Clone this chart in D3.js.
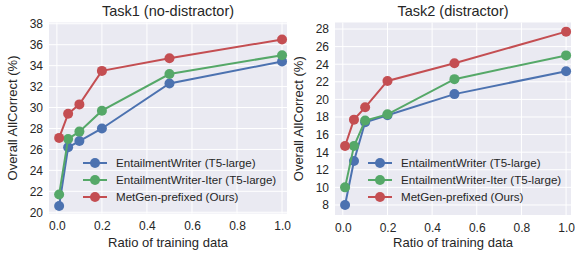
<!DOCTYPE html>
<html>
<head>
<meta charset="utf-8">
<script src="https://cdn.jsdelivr.net/npm/d3@7"></script>
<style>
  body { margin: 0; background: #fff; }
  text { font-family: "Liberation Sans", Arial, sans-serif; fill: #262626; }
</style>
</head>
<body>
<script>
let w = 575;
let h = 255;

// data
let ratios = [0.01, 0.05, 0.1, 0.2, 0.5, 1.0];
let seriesNames = ["EntailmentWriter (T5-large)", "EntailmentWriter-Iter (T5-large)", "MetGen-prefixed (Ours)"];
let colors = ["#4c72b0", "#55a868", "#c44e52"];
let task1Writer = [20.6, 26.2, 26.8, 28.0, 32.3, 34.4];
let task1Iter   = [21.7, 27.0, 27.7, 29.7, 33.2, 35.0];
let task1MetGen = [27.1, 29.4, 30.3, 33.5, 34.7, 36.5];
let task2Writer = [8.0, 13.0, 17.4, 18.2, 20.6, 23.2];
let task2Iter   = [10.0, 14.7, 17.6, 18.3, 22.3, 25.0];
let task2MetGen = [14.7, 17.7, 19.1, 22.1, 24.1, 27.7];
let xTicks = [0, 0.2, 0.4, 0.6, 0.8, 1.0];
let task1YTicks = [20, 22, 24, 26, 28, 30, 32, 34, 36, 38];
let task2YTicks = [8, 10, 12, 14, 16, 18, 20, 22, 24, 26, 28];

let svg = d3.select("body")
  .append("svg")
  .attr("width", w)
  .attr("height", h);

function drawPanel(opt) {
  let g = svg.append("g");

  let xScale = d3.scaleLinear()
    .domain([-0.035, 1.022])
    .range([opt.left, opt.right]);
  let yScale = d3.scaleLinear()
    .domain(opt.yDomain)
    .range([opt.bottom, opt.top]);

  // background
  g.append("rect")
    .attr("x", opt.left)
    .attr("y", opt.top)
    .attr("width", opt.right - opt.left)
    .attr("height", opt.bottom - opt.top)
    .attr("fill", "#eaeaf2");

  // grid
  g.selectAll(".vgrid")
    .data(xTicks)
    .enter()
    .append("line")
    .attr("x1", d => xScale(d))
    .attr("x2", d => xScale(d))
    .attr("y1", opt.top)
    .attr("y2", opt.bottom)
    .attr("stroke", "#fff")
    .attr("stroke-width", 1);
  g.selectAll(".hgrid")
    .data(opt.yTicks)
    .enter()
    .append("line")
    .attr("x1", opt.left)
    .attr("x2", opt.right)
    .attr("y1", d => yScale(d))
    .attr("y2", d => yScale(d))
    .attr("stroke", "#fff")
    .attr("stroke-width", 1);

  // axes (tick labels only)
  let xAxis = d3.axisBottom(xScale)
    .tickValues(xTicks)
    .tickFormat(d3.format(".1f"))
    .tickSize(0)
    .tickPadding(8);
  let xg = g.append("g")
    .attr("transform", "translate(0," + opt.bottom + ")")
    .call(xAxis);
  let yAxis = d3.axisLeft(yScale)
    .tickValues(opt.yTicks)
    .tickSize(0)
    .tickPadding(6);
  let yg = g.append("g")
    .attr("transform", "translate(" + opt.left + ",0)")
    .call(yAxis);
  [xg, yg].forEach(a => {
    a.select(".domain").remove();
    a.selectAll("text")
      .attr("font-size", "12px")
      .attr("font-family", "Liberation Sans, Arial, sans-serif")
      .attr("fill", "#262626");
  });

  // lines + markers
  let line = d3.line()
    .x((d, i) => xScale(ratios[i]))
    .y(d => yScale(d));
  opt.series.forEach((vals, k) => {
    g.append("path")
      .datum(vals)
      .attr("d", line)
      .attr("fill", "none")
      .attr("stroke", colors[k])
      .attr("stroke-width", 2);
    g.selectAll(".pt" + k)
      .data(vals)
      .enter()
      .append("circle")
      .attr("cx", (d, i) => xScale(ratios[i]))
      .attr("cy", d => yScale(d))
      .attr("r", 5)
      .attr("fill", colors[k]);
  });

  // title and labels
  let cx = (opt.left + opt.right) / 2;
  g.append("text")
    .text(opt.title)
    .attr("x", cx)
    .attr("y", 16)
    .attr("text-anchor", "middle")
    .attr("font-size", "14.5px");
  g.append("text")
    .text("Ratio of training data")
    .attr("x", cx)
    .attr("y", 247)
    .attr("text-anchor", "middle")
    .attr("font-size", "13px");
  g.append("text")
    .text("Overall AllCorrect (%)")
    .attr("transform", "translate(" + opt.yLabelX + "," + ((opt.top + opt.bottom) / 2) + ") rotate(-90)")
    .attr("text-anchor", "middle")
    .attr("font-size", "13px");

  // legend
  seriesNames.forEach((name, k) => {
    let ly = 163 + k * 17;
    g.append("line")
      .attr("x1", opt.legendX)
      .attr("x2", opt.legendX + 24)
      .attr("y1", ly)
      .attr("y2", ly)
      .attr("stroke", colors[k])
      .attr("stroke-width", 2);
    g.append("circle")
      .attr("cx", opt.legendX + 12)
      .attr("cy", ly)
      .attr("r", 5)
      .attr("fill", colors[k]);
    g.append("text")
      .text(name)
      .attr("x", opt.legendX + 33)
      .attr("y", ly + 4)
      .attr("font-size", "11.6px");
  });
}

drawPanel({
  left: 49, right: 287, top: 22.5, bottom: 213.5,
  yDomain: [19.88, 38.12],
  yTicks: task1YTicks,
  series: [task1Writer, task1Iter, task1MetGen],
  title: "Task1 (no-distractor)",
  yLabelX: 17,
  legendX: 83
});

drawPanel({
  left: 335, right: 571, top: 22.5, bottom: 215,
  yDomain: [6.86, 28.74],
  yTicks: task2YTicks,
  series: [task2Writer, task2Iter, task2MetGen],
  title: "Task2 (distractor)",
  yLabelX: 303,
  legendX: 368
});
</script>
</body>
</html>
